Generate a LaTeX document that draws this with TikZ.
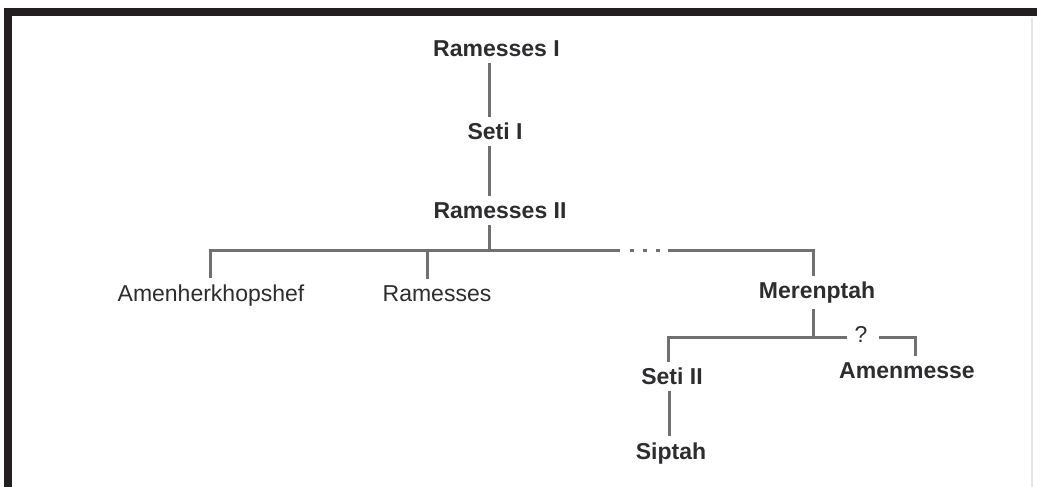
\documentclass[tikz,border=0pt]{standalone}
\usepackage{fontspec}
\setmainfont{Liberation Sans}
\usepackage{xcolor}
\usepackage{tikz}
\usetikzlibrary{positioning, calc}
\definecolor{frame-color}{RGB}{35,31,32}
\definecolor{line-color}{RGB}{112,112,114}
\definecolor{name-color}{RGB}{45,45,47}
\tikzset{
    king/.style = {font=\fontsize{23}{27}\selectfont\bfseries, text=name-color, inner sep=6pt, anchor=base},
    prince/.style = {font=\fontsize{23}{27}\selectfont, text=name-color, inner sep=6pt, anchor=base},
    link/.style = {draw=line-color, line width=3pt}
}

\begin{document}
\begin{tikzpicture}[x=1pt, y=-1pt]
\useasboundingbox (0,0) rectangle (1037,487);
\fill[frame-color] (4,8) rectangle (1037,16);
\fill[frame-color] (4,8) rectangle (12,487);
\draw[black!10, line width=1.5pt] (1032,18) -- (1032,487);

%kings
\node[king] (r1) at (496.5,56.5) {Ramesses I};
\node[king] (s1) at (495,139.5) {Seti I};
\node[king] (r2) at (500,218.5) {Ramesses II};

%sons of ramesses ii
\node[prince] (amh) at (211,301) {Amenherkhopshef};
\node[prince] (ram) at (437,301) {Ramesses};
\node[king] (mer) at (817,298.5) {Merenptah};

%sons of merenptah
\node[king] (s2) at (672,384.5) {Seti II};
\node[king] (sip) at (671,459) {Siptah};
\node[king] (amn) at (907,378.5) {Amenmesse};
\node[prince, inner sep=0pt] (q) at (861,342) {?};

%joints
\coordinate (trunk) at (489,250);
\coordinate (d1) at (210,250);
\coordinate (d2) at (427,250);
\coordinate (d3) at (813,250);
\coordinate (gapl) at (620,250);
\coordinate (gapr) at (668,250);
\coordinate (m) at (813,337);
\coordinate (sj) at (668,337);
\coordinate (aj) at (915,337);
\coordinate (sl) at (669,400);

\draw[link] (r1.south -| trunk) -- (s1.north -| trunk);
\draw[link] (s1.south -| trunk) -- (r2.north -| trunk);
\draw[link] (r2.south -| trunk) -- (trunk);

\draw[link] (amh.north -| d1) -- (d1) -- (gapl);
\draw[link] (ram.north -| d2) -- (d2);
\draw[link, dash pattern=on 4pt off 9pt] ([xshift=10pt]gapl) -- ([xshift=-8pt]gapr);
\draw[link] (gapr) -- (d3) -- (mer.north -| d3);

\draw[link] (mer.south -| m) -- (m);
\draw[link] (s2.north -| sj) -- (sj) -- ([xshift=-7pt]sj -| q.west);
\draw[link] ([xshift=11pt]aj -| q.east) -- (aj) -- (amn.north -| aj);
\draw[link] (s2.south -| sl) -- (sip.north -| sl);
\end{tikzpicture}
\end{document}
